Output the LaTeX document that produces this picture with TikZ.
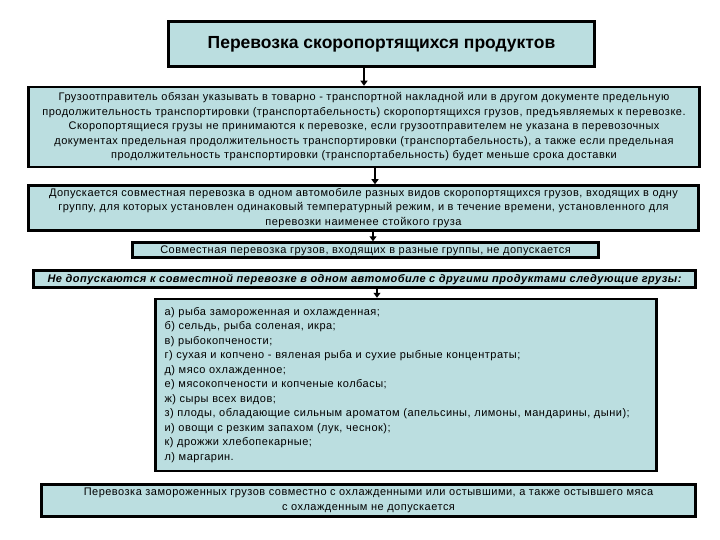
\documentclass[tikz,border=0pt]{standalone}
\usepackage{fontspec}
\setmainfont{Liberation Sans}
\newfontfamily\spacedfont{Liberation Sans}[LetterSpace=4.5]
\usetikzlibrary{positioning,calc,arrows.meta}

\definecolor{boxfill}{RGB}{187,222,224}

\tikzset{
  block/.style={draw=black, line width=2.5pt, fill=boxfill, align=center, inner sep=0pt,
    font=\spacedfont\fontsize{11}{14.5}\selectfont},
  arr/.style={line width=1.8pt, -{Triangle[length=5pt,width=7pt]}},
}

\begin{document}
\begin{tikzpicture}[x=1pt,y=-1pt]
\useasboundingbox (0,0) rectangle (720,540);

\node[block, minimum width=426pt, minimum height=45pt, font=\rmfamily\bfseries\fontsize{17.5}{20}\selectfont] (title) at (381.5,44) {Перевозка скоропортящихся продуктов};
\node[block, minimum width=671pt, minimum height=80pt, below=18pt of title, xshift=-17.5pt] (rule) {Грузоотправитель обязан указывать в товарно - транспортной накладной или в другом документе предельную\\
продолжительность транспортировки (транспортабельность) скоропортящихся грузов, предъявляемых к перевозке.\\
Скоропортящиеся грузы не принимаются к перевозке, если грузоотправителем не указана в перевозочных\\
документах предельная продолжительность транспортировки (транспортабельность), а также если предельная\\
продолжительность транспортировки (транспортабельность) будет меньше срока доставки};
\node[block, minimum width=670pt, minimum height=45pt, below=16pt of rule, xshift=-0.5pt] (allow) {Допускается совместная перевозка в одном автомобиле разных видов скоропортящихся грузов, входящих в одну\\
группу, для которых установлен одинаковый температурный режим, и в течение времени, установленного для\\
перевозки наименее стойкого груза};
\node[block, minimum width=466pt, minimum height=15pt, text height=8pt, text depth=2pt, below=9.5pt of allow, xshift=2pt] (groups) {Совместная перевозка грузов, входящих в разные группы, не допускается};
\node[block, minimum width=662pt, minimum height=17pt, text height=8pt, text depth=2pt, below=10.5pt of groups, xshift=-1pt, font=\spacedfont\bfseries\itshape\fontsize{11}{14.5}\selectfont] (forbid) {Не допускаются к совместной перевозке в одном автомобиле с другими продуктами следующие грузы:};
\node[block, minimum width=501pt, minimum height=172pt, text width=483pt, align=left, below=9pt of forbid, xshift=41.5pt] (list) {а) рыба замороженная и охлажденная;\\
б) сельдь, рыба соленая, икра;\\
в) рыбокопчености;\\
г) сухая и копчено - вяленая рыба и сухие рыбные концентраты;\\
д) мясо охлажденное;\\
е) мясокопчености и копченые колбасы;\\
ж) сыры всех видов;\\
з) плоды, обладающие сильным ароматом (апельсины, лимоны, мандарины, дыни);\\
и) овощи с резким запахом (лук, чеснок);\\
к) дрожжи хлебопекарные;\\
л) маргарин.};
\node[block, minimum width=654pt, minimum height=32pt, below=11pt of list, xshift=-37.5pt] (last) {Перевозка замороженных грузов совместно с охлажденными или остывшими, а также остывшего мяса\\
с охлажденным не допускается};

\draw[arr] (rule.north |- title.south) -- (rule.north);
\draw[arr] ($(rule.south)+(11,0)$) -- ($(allow.north)+(11.5,0)$);
\draw[arr] ($(allow.south)+(9.5,0)$) -- ($(groups.north)+(7.5,0)$);
\draw[arr] ($(forbid.south)+(12.5,0)$) -- ($(list.north)+(-29,0)$);
\end{tikzpicture}
\end{document}
